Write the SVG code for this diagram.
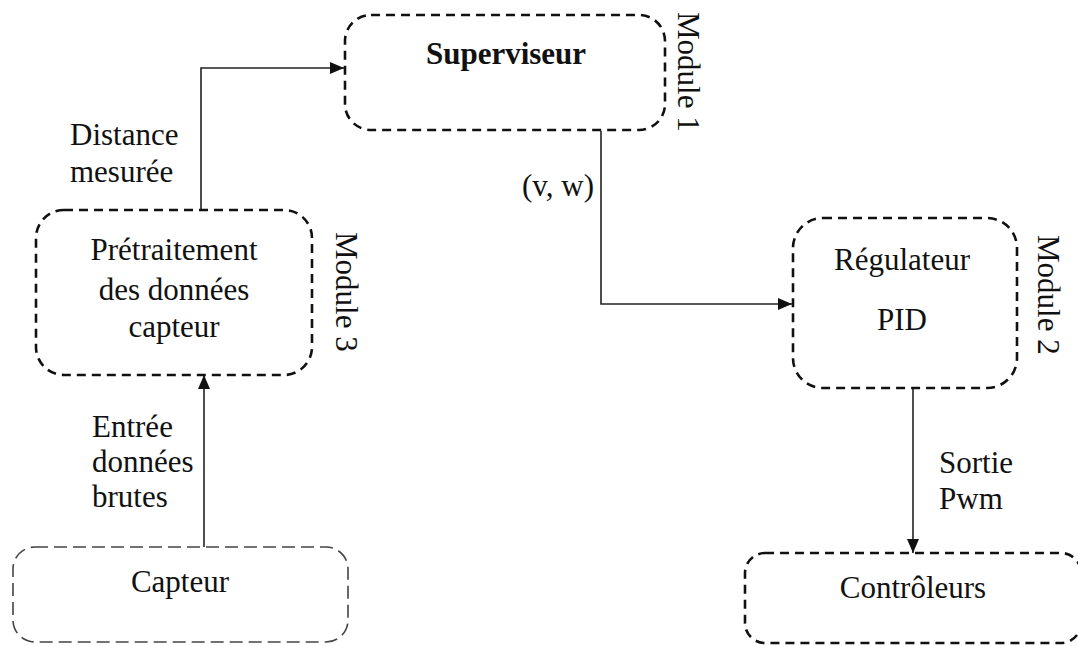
<svg xmlns="http://www.w3.org/2000/svg" width="1078" height="646" viewBox="0 0 1078 646">
  <style>
    .box { fill: none; stroke: #111; stroke-width: 2.6; stroke-dasharray: 9 6; }
    .box-thin { fill: none; stroke: #444; stroke-width: 1.6; stroke-dasharray: 13 6; }
    .txt { font-family: "Liberation Serif", "Times New Roman", serif; font-size: 31px; fill: #111; }
    .bold { font-weight: bold; }
    .mid { text-anchor: middle; }
    .wire { fill: none; stroke: #222; stroke-width: 1.6; }
  </style>
  <defs>
    <marker id="arrow" viewBox="0 0 14 12" refX="14" refY="6" markerWidth="14" markerHeight="12" markerUnits="userSpaceOnUse" orient="auto">
      <path d="M0,0 L14,6 L0,12 Z" fill="#111"/>
    </marker>
  </defs>
  <rect width="1078" height="646" fill="#fff"/>

  <!-- connectors -->
  <g id="connectors">
    <polyline class="wire" points="201,210 201,68 344,68" marker-end="url(#arrow)"/>
    <polyline class="wire" points="601,131 601,304 792,304" marker-end="url(#arrow)"/>
    <line class="wire" x1="913" y1="389" x2="913" y2="553" marker-end="url(#arrow)"/>
    <line class="wire" x1="204" y1="547" x2="204" y2="375" marker-end="url(#arrow)"/>
  </g>

  <!-- connector labels -->
  <g id="labels">
    <text class="txt" x="70" y="145">Distance</text>
    <text class="txt" x="70" y="182">mesurée</text>
    <text class="txt" x="522" y="196">(v, w)</text>
    <text class="txt" x="92" y="437">Entrée</text>
    <text class="txt" x="92" y="472">données</text>
    <text class="txt" x="92" y="507">brutes</text>
    <text class="txt" x="939" y="473">Sortie</text>
    <text class="txt" x="939" y="509">Pwm</text>
  </g>

  <g id="superviseur">
    <rect class="box" x="345" y="15" width="320" height="115" rx="26"/>
    <text class="txt bold mid" x="506" y="64">Superviseur</text>
    <text class="txt" transform="translate(678,12) rotate(90)">Module 1</text>
  </g>

  <g id="pretraitement">
    <rect class="box" x="36" y="210" width="276" height="165" rx="28"/>
    <text class="txt mid" x="174" y="260">Prétraitement</text>
    <text class="txt mid" x="174" y="300">des données</text>
    <text class="txt mid" x="174" y="337">capteur</text>
    <text class="txt" transform="translate(336,232) rotate(90)">Module 3</text>
  </g>

  <g id="regulateur">
    <rect class="box" x="793" y="218" width="224" height="170" rx="30"/>
    <text class="txt mid" x="902" y="270">Régulateur</text>
    <text class="txt mid" x="902" y="330">PID</text>
    <text class="txt" transform="translate(1038,235) rotate(90)">Module 2</text>
  </g>

  <g id="capteur">
    <rect class="box-thin" x="13" y="547" width="335" height="95" rx="22"/>
    <text class="txt mid" x="180" y="592">Capteur</text>
  </g>

  <g id="controleurs">
    <rect class="box" x="745" y="553" width="336" height="90" rx="20"/>
    <text class="txt mid" x="913" y="598">Contrôleurs</text>
  </g>
</svg>
